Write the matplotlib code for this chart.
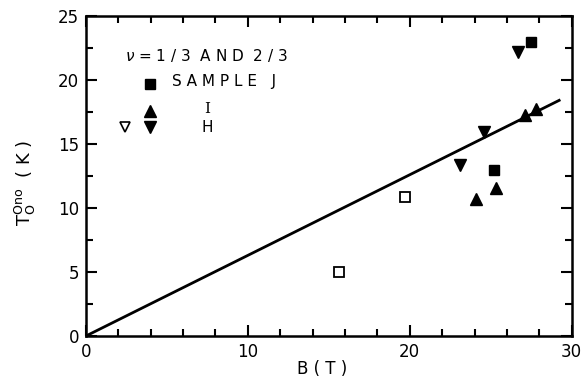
import numpy as np
import matplotlib.pyplot as plt
from matplotlib.ticker import MultipleLocator

# Sample J (filled squares)
j_b = [27.5, 25.2]
j_t = [23.0, 13.0]
# Sample I (filled up triangles)
i_b = [27.8, 27.1, 25.3, 24.1]
i_t = [17.7, 17.3, 11.6, 10.7]
# Sample H (filled down triangles)
h_b = [26.7, 24.6, 23.1]
h_t = [22.2, 15.9, 13.4]
# open squares
o_b = [19.7, 15.6]
o_t = [10.9, 5.0]
# fitted line
line_b = [0.0, 29.3]
line_slope = 0.63


def main():
    plt.rcParams['font.family'] = 'DejaVu Sans'
    fig = plt.figure(figsize=(5.84, 3.81), dpi=100)
    ax = fig.add_axes([0.147, 0.118, 0.832, 0.840])

    lb = np.array(line_b)
    ax.plot(lb, line_slope * lb, color='black', lw=2.0, solid_capstyle='butt')

    ax.plot(j_b, j_t, 's', color='black', ms=7, clip_on=False)
    ax.plot(i_b, i_t, '^', color='black', ms=8, clip_on=False)
    ax.plot(h_b, h_t, 'v', color='black', ms=8, clip_on=False)
    ax.plot(o_b, o_t, 's', mfc='white', mec='black', mew=1.3, ms=7)

    # hand-drawn legend
    tr = ax.transAxes
    ax.text(0.080, 0.878, r'$\nu$ = 1 / 3  A N D  2 / 3', transform=tr,
            fontsize=11, va='center', ha='left')
    ax.plot([0.132], [0.787], 's', color='black', ms=7, transform=tr)
    ax.text(0.177, 0.794, 'S A M P L E   J', transform=tr, fontsize=11,
            va='center', ha='left')
    ax.plot([0.132], [0.703], '^', color='black', ms=8, transform=tr)
    ax.text(0.249, 0.709, 'I', transform=tr, fontsize=11, va='center',
            ha='center', family='DejaVu Serif')
    ax.plot([0.080], [0.653], 'v', mfc='white', mec='black', mew=1.2, ms=7,
            transform=tr)
    ax.plot([0.132], [0.653], 'v', color='black', ms=8, transform=tr)
    ax.text(0.249, 0.653, 'H', transform=tr, fontsize=11, va='center',
            ha='center')

    ax.set_xlim(0, 30)
    ax.set_ylim(0, 25)
    ax.xaxis.set_major_locator(MultipleLocator(10))
    ax.xaxis.set_minor_locator(MultipleLocator(2))
    ax.yaxis.set_major_locator(MultipleLocator(5))
    ax.yaxis.set_minor_locator(MultipleLocator(2.5))
    ax.tick_params(which='both', direction='in', top=True, right=True,
                   width=1.5, labelsize=12)
    ax.tick_params(which='major', length=8, pad=5)
    ax.tick_params(which='minor', length=5)
    for s in ax.spines.values():
        s.set_linewidth(1.8)

    ax.set_xlabel('B ( T )', fontsize=12)
    ax.xaxis.set_label_coords(0.486, -0.075)
    ax.set_ylabel(r'T$_{\rm O}^{\rm Ono}$  ( K )', fontsize=13)
    ax.yaxis.set_label_coords(-0.098, 0.48)

    fig.savefig('out.png', dpi=100)


if __name__ == "__main__":
    main()
